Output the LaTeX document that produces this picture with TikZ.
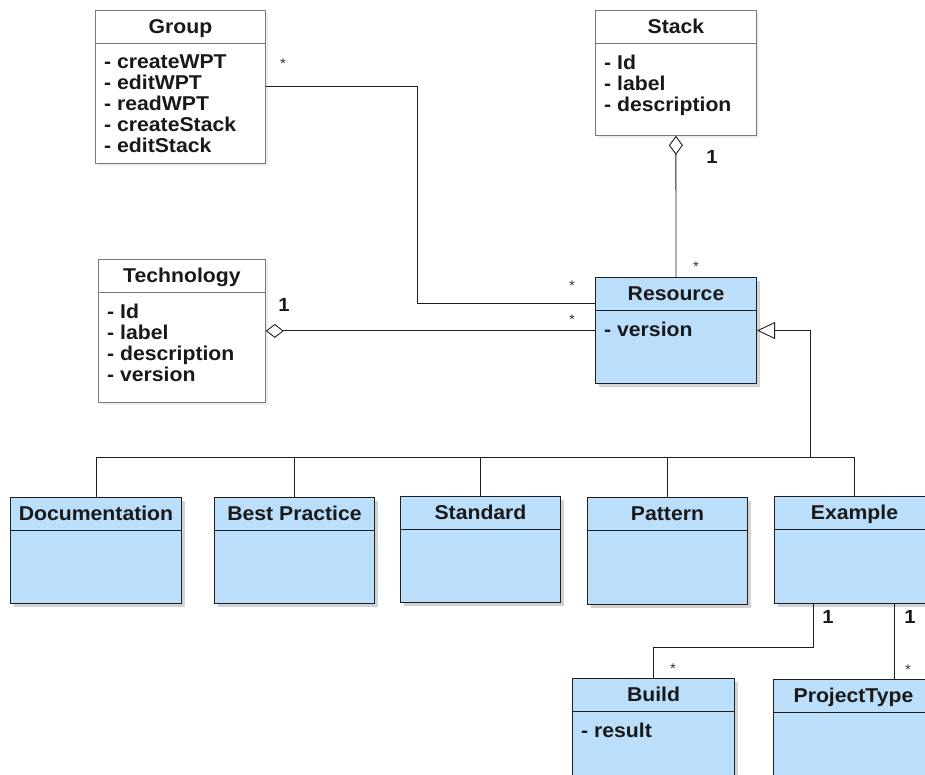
\documentclass[tikz,border=0pt]{standalone}
\usepackage{fontspec}
\setmainfont{Liberation Sans}[FakeStretch=1.06]
\usetikzlibrary{arrows.meta,shadows,calc}

\definecolor{bluefill}{RGB}{187,222,251}
\definecolor{edgecol}{RGB}{30,30,30}
\definecolor{greyedge}{RGB}{120,120,120}

\tikzset{
  bluebox/.style={draw=edgecol, fill=bluefill, line width=1pt, inner sep=0pt,
    drop shadow={opacity=0.35, shadow xshift=3pt, shadow yshift=-3pt}},
  whitebox/.style={draw=greyedge, fill=white, line width=0.8pt, inner sep=0pt,
    drop shadow={opacity=0.12, shadow xshift=3pt, shadow yshift=-3pt}},
  blueboxline/.style={draw=edgecol, line width=1pt},
  whiteboxline/.style={draw=greyedge, line width=0.8pt},
  titletext/.style={font=\bfseries\fontsize{20}{21}\selectfont, inner sep=0pt, text=black!90},
  attrtext/.style={font=\bfseries\fontsize{20}{21}\selectfont, inner sep=0pt, align=left, text=black!90},
  conn/.style={draw=edgecol, line width=0.9pt},
  startext/.style={font=\fontsize{14}{14}\selectfont, inner sep=0pt, text=black!80},
  onetext/.style={font=\bfseries\fontsize{19}{19}\selectfont, inner sep=0pt, text=black!90},
}

% name, style, x, y, w, h, title, attributes
\newcommand{\umlbox}[8]{%
  \node[#2, anchor=north west, minimum width=#5pt, minimum height=#6pt] (#1) at (#3,#4) {};
  \draw[#2line] ([yshift=-33pt]#1.north west) -- ([yshift=-33pt]#1.north east);
  \node[titletext, anchor=base] (#1-title) at ([yshift=-23.5pt]#1.north) {#7};
  \node[attrtext, anchor=north west] (#1-attrs) at ([xshift=9pt,yshift=-44.5pt]#1.north west) {#8};
}

\begin{document}
\begin{tikzpicture}[x=1pt,y=-1pt]
\useasboundingbox (0,0) rectangle (925,774);
\clip (0,0) rectangle (925,774);
\fill[white] (0,0) rectangle (925,774);

% classes
\umlbox{group}{whitebox}{95}{10}{170}{153}{Group}{- createWPT\\- editWPT\\- readWPT\\- createStack\\- editStack}
\umlbox{stack}{whitebox}{595}{10}{161}{125}{Stack}{- Id\\- label\\- description}
\umlbox{technology}{whitebox}{98}{259}{167}{143}{Technology}{- Id\\- label\\- description\\- version}
\umlbox{resource}{bluebox}{595}{277}{161}{106}{Resource}{- version}
\umlbox{documentation}{bluebox}{10}{497}{171}{106}{Documentation}{}
\umlbox{bestpractice}{bluebox}{214}{497}{160}{106}{Best Practice}{}
\umlbox{standard}{bluebox}{400}{496}{160}{106}{Standard}{}
\umlbox{pattern}{bluebox}{587}{497}{160}{107}{Pattern}{}
\umlbox{example}{bluebox}{774}{496}{160}{107}{Example}{}
\umlbox{build}{bluebox}{572}{678}{162}{110}{Build}{- result}
\umlbox{projecttype}{bluebox}{773}{679}{160}{110}{ProjectType}{}

% Group -- Resource
\coordinate (gbend) at (417,303);
\draw[conn] (group.east) -| (gbend) -- (gbend -| resource.west);

% Stack <>-- Resource
\draw[conn, {Diamond[fill=white, length=19pt, width=14pt]}-] (stack.south) -- (resource.north);

% Technology <>-- Resource
\draw[conn, {Diamond[fill=white, length=18pt, width=14pt]}-] (technology.east) -- (technology.east -| resource.west);

% Generalisation
\coordinate (bus) at (810,457);
\draw[conn, -{Triangle[open, fill=white, length=18pt, width=17pt]}] (bus) |- (resource.east);
\coordinate (busL) at (documentation.north |- bus);
\coordinate (busR) at (example.north |- bus);
\draw[conn] (documentation.north) -- (busL) -- (busR) -- (example.north);
\foreach \n in {bestpractice,standard,pattern}
  \draw[conn] (\n.north) -- (\n.north |- bus);

% Example -- Build, Example -- ProjectType
\coordinate (exb) at ([xshift=-41pt]example.south);
\coordinate (exbend) at (exb |- 0,647);
\draw[conn] (exb) -- (exbend) -| (build.north);
\coordinate (exp) at ([xshift=40pt]example.south);
\draw[conn] (exp) -- (exp |- projecttype.north);

% multiplicities
\node[startext, anchor=north] (m1) at (283,59) {*};
\node[startext, anchor=north] (m2) at (572,280.5) {*};
\node[startext, anchor=north] (m3) at (572,314.5) {*};
\node[startext, anchor=north] (m4) at (696,262) {*};
\node[startext, anchor=north] (m5) at (673,663.5) {*};
\node[startext, anchor=north] (m6) at (908,664.5) {*};
\node[onetext] (o1) at (712,157) {1};
\node[onetext] (o2) at (284,305) {1};
\node[onetext] (o3) at (828,617) {1};
\node[onetext] (o4) at (910,617) {1};
\end{tikzpicture}
\end{document}
